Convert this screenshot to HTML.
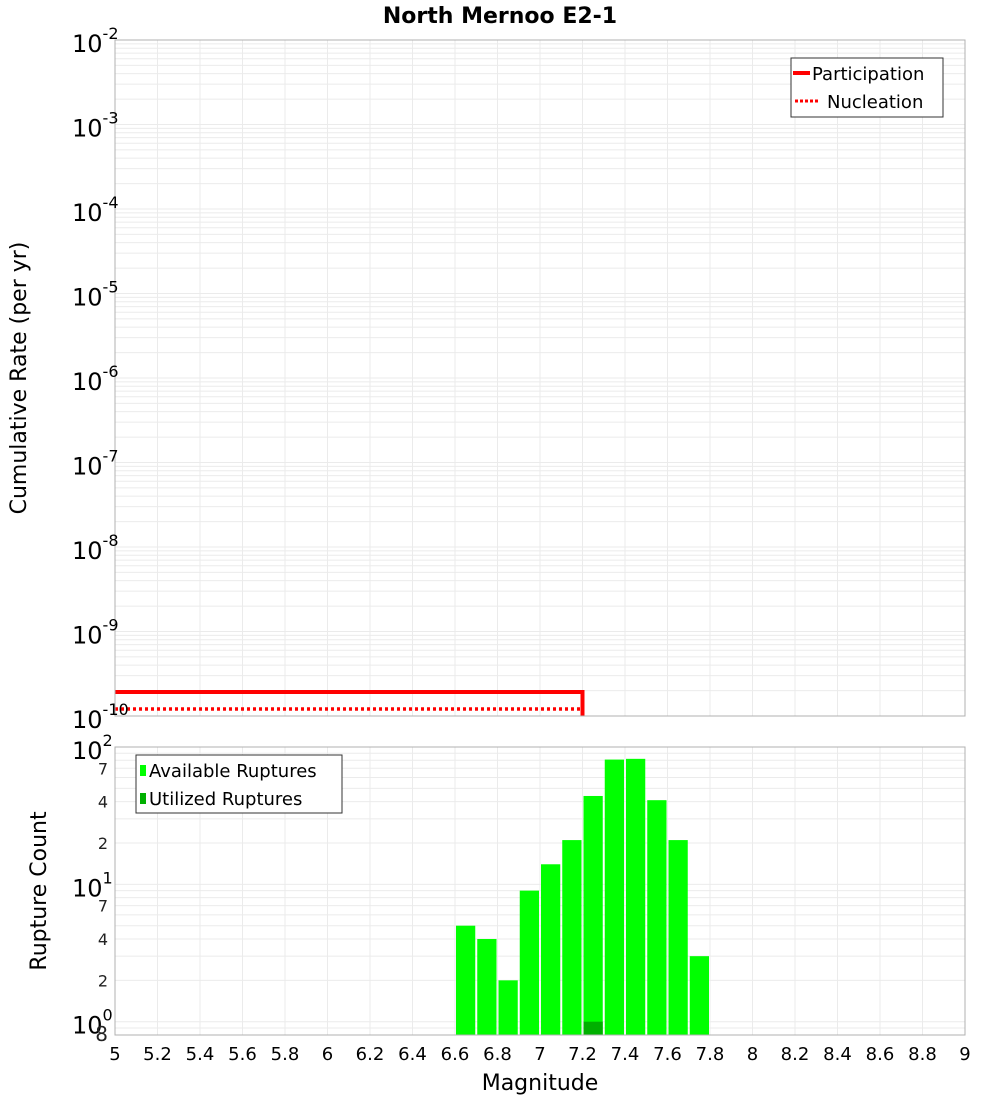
<!DOCTYPE html>
<html><head><meta charset="utf-8"><style>
html,body{margin:0;padding:0;background:#fff;}
svg{display:block;font-family:"DejaVu Sans","Liberation Sans",sans-serif;}
</style></head><body>
<svg id="c" width="1000" height="1100" viewBox="0 0 1000 1100" xmlns="http://www.w3.org/2000/svg"></svg>
<script>
// ---- data ----
const partRate = 1.92e-10;
const nuclRate = 1.21e-10;
const stepMag = 7.2;
const binCenters = [6.65,6.75,6.85,6.95,7.05,7.15,7.25,7.35,7.45,7.55,7.65,7.75];
const availCounts = [5,4,2,9,14,21,44,81,82,41,21,3];
const utilCounts = [0,0,0,0,0,0,1,0,0,0,0,0];
const xTicks = [5,5.2,5.4,5.6,5.8,6,6.2,6.4,6.6,6.8,7,7.2,7.4,7.6,7.8,8,8.2,8.4,8.6,8.8,9];
const topExps = [-10,-9,-8,-7,-6,-5,-4,-3,-2];
const botMinor = [{v:70,t:'7'},{v:40,t:'4'},{v:20,t:'2'},{v:7,t:'7'},{v:4,t:'4'},{v:2,t:'2'},{v:0.8,t:'8'}];

const NS='http://www.w3.org/2000/svg';
const svg=document.getElementById('c');
function el(tag,attrs,parent){const e=document.createElementNS(NS,tag);for(const k in attrs)e.setAttribute(k,attrs[k]);(parent||svg).appendChild(e);return e;}

const L=115,R=965;
const X=m=>L+(m-5)/4*(R-L);
const T0=40,T1=716;
const YT=v=>T1-(Math.log10(v)+10)/8*(T1-T0);
const B0=747,B1=1035;
const YB=v=>B1-Math.log10(v/0.8)/Math.log10(125)*(B1-B0);

let r=el('rect',{x:L,y:T0,width:R-L,height:T1-T0,fill:'#fff'});

const gT=el('g',{stroke:'#ebebeb','stroke-width':1});

for(const e of topExps){for(let k=1;k<10;k++){const v=k*Math.pow(10,e);if(v>1e-2+1e-12)break;const y=YT(v);el('line',{x1:L,x2:R,y1:y,y2:y},gT);}}
for(const t of xTicks){el('line',{x1:X(t),x2:X(t),y1:T0,y2:T1},gT);}
const gB=el('g',{stroke:'#ebebeb','stroke-width':1});

for(const e of [-1,0,1]){for(let k=1;k<10;k++){const v=k*Math.pow(10,e);if(v<0.8||v>100)continue;const y=YB(v);el('line',{x1:L,x2:R,y1:y,y2:y},gB);}}
el('line',{x1:L,x2:R,y1:YB(100),y2:YB(100)},gB);
for(const t of xTicks){el('line',{x1:X(t),x2:X(t),y1:B0,y2:B1},gB);}

const p=el('polyline',{points:`${X(5)},${YT(partRate)} ${X(stepMag)},${YT(partRate)} ${X(stepMag)},${T1}`,fill:'none',stroke:'#ff0000','stroke-width':4});

const n=el('polyline',{points:`${X(5)},${YT(nuclRate)} ${X(stepMag)},${YT(nuclRate)} ${X(stepMag)},${T1}`,fill:'none',stroke:'#ff0000','stroke-width':3.5,'stroke-dasharray':'3,3'});


const gBar=el('g',{});

binCenters.forEach((c,i)=>{
  const x0=X(c-0.05)+1,x1=X(c+0.05)-1;
  const y=YB(availCounts[i]);
  const b=el('rect',{x:x0,y:y,width:x1-x0,height:B1-y,fill:'#00ff00'},gBar);
  
  if(utilCounts[i]>0){const yu=YB(utilCounts[i]);
    const u=el('rect',{x:x0,y:yu,width:x1-x0,height:B1-yu,fill:'#00b000'},gBar);
    }
});

el('rect',{x:L,y:T0,width:R-L,height:T1-T0,fill:'none',stroke:'#b0b0b0','stroke-width':1});
el('rect',{x:L,y:B0,width:R-L,height:B1-B0,fill:'none',stroke:'#b0b0b0','stroke-width':1});

for(const e of topExps){
  const y=YT(Math.pow(10,e));
  const t=el('text',{x:72,y:y+12,'font-size':24,fill:'#000'});
  
  t.textContent='10';
  const s=el('tspan',{dy:-13,'font-size':16});s.textContent=String(e);t.appendChild(s);
}
for(const e of [0,1,2]){
  const y=YB(Math.pow(10,e));
  const t=el('text',{x:72,y:y+12,'font-size':24,fill:'#000'});
  
  t.textContent='10';
  const s=el('tspan',{dy:-13,'font-size':16});s.textContent=String(e);t.appendChild(s);
}
for(const m of botMinor){
  const t=el('text',{x:108,y:YB(m.v)+6,'font-size':m.v<1?20:16,'text-anchor':'end',fill:'#222'});
  
  t.textContent=m.t;
}
for(const tk of xTicks){
  const t=el('text',{x:X(tk),y:1060,'font-size':18,'text-anchor':'middle',fill:'#000'});
  
  t.textContent=String(tk);
}
</script>
<svg width="1000" height="1100" style="position:absolute;left:0;top:0" xmlns="http://www.w3.org/2000/svg">
<g font-family="DejaVu Sans, Liberation Sans, sans-serif">
<text x="500" y="23" font-size="22" font-weight="bold" text-anchor="middle">North Mernoo E2-1</text>
<text transform="translate(26,378) rotate(-90)" font-size="22" text-anchor="middle">Cumulative Rate (per yr)</text>
<text transform="translate(46,891) rotate(-90)" font-size="22" text-anchor="middle">Rupture Count</text>
<text x="540" y="1090" font-size="22" text-anchor="middle">Magnitude</text>
<g>
<rect x="791" y="58" width="152" height="59" fill="#fff" stroke="#333" stroke-width="1"/>
<line x1="793" y1="73" x2="810" y2="73" stroke="#ff0000" stroke-width="4"/>
<text x="812" y="80" font-size="18">Participation</text>
<line x1="795" y1="101" x2="820" y2="101" stroke="#ff0000" stroke-width="3" stroke-dasharray="3,2"/>
<text x="827" y="108" font-size="18">Nucleation</text>
</g>
<g>
<rect x="136" y="755" width="206" height="58" fill="#fff" stroke="#333" stroke-width="1"/>
<rect x="140" y="765" width="6" height="11" fill="#00ff00"/>
<text x="149" y="777" font-size="18">Available Ruptures</text>
<rect x="140" y="793" width="6" height="11" fill="#00b000"/>
<text x="149" y="805" font-size="18">Utilized Ruptures</text>
</g>
</g>
</svg>
</body></html>
